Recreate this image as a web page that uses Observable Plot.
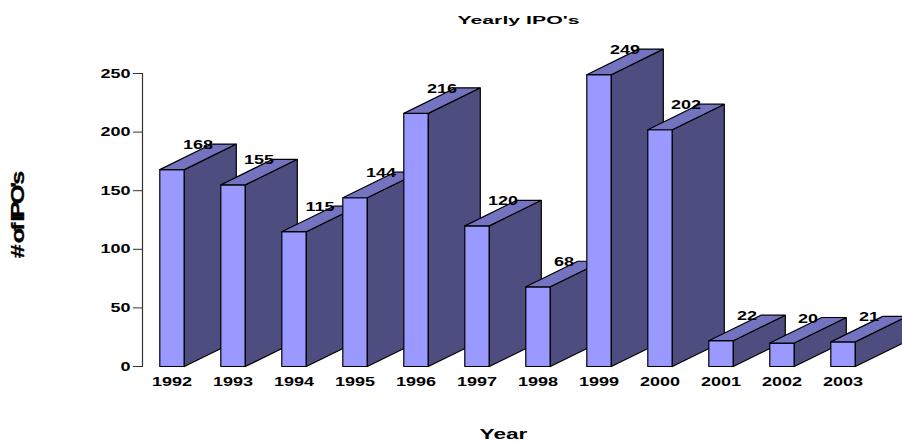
<!DOCTYPE html>
<html>
<head>
<meta charset="utf-8">
<script src="https://cdn.jsdelivr.net/npm/d3@7"></script>
<script src="https://cdn.jsdelivr.net/npm/@observablehq/plot@0.6"></script>
<style>
html,body{margin:0;padding:0;background:#fff;overflow:hidden}
svg{display:block}
</style>
</head>
<body>
<div id="chart"></div>
<script>
const years = [1992,1993,1994,1995,1996,1997,1998,1999,2000,2001,2002,2003];
const ipos  = [168,155,115,144,216,120,68,249,202,22,20,21];
const yTicks = [0,50,100,150,200,250];
const titleText = "Yearly IPO's";
const xLabel = "Year";
const yLabel = "# of IPO's";

// bar shape in data units
const barW = 0.402, depthX = 0.852, depthY = 21.8;

const polys = [];
years.forEach((yr, i) => {
  const v = ipos[i], L = yr, R = yr + barW;
  const add = (face, pts) => pts.concat([pts[0]]).forEach(p =>
    polys.push({id: yr + face, face, x: p[0], y: p[1]}));
  add("front", [[L,0],[R,0],[R,v],[L,v]]);
  add("side",  [[R,0],[R+depthX,depthY],[R+depthX,v+depthY],[R,v]]);
  add("top",   [[L,v],[R,v],[R+depthX,v+depthY],[L+depthX,v+depthY]]);
});
const labels = years.map((yr,i)=>({x: yr + barW/2 + depthX/2, y: ipos[i] + depthY, v: ipos[i]}));

const font = "'Liberation Sans', Arial, sans-serif";
const plot = Plot.plot({
  width: 902, height: 442,
  marginLeft: 142, marginRight: 0, marginTop: 73, marginBottom: 76,
  style: {fontFamily: font, fontWeight: "bold", fontSize: "12.5px", color: "#000", background: "#fff", overflow: "hidden"},
  x: {domain: [1992 - 17.3/61, 1992 + 742.7/61], axis: null},
  y: {domain: [0,250], axis: null},
  color: {domain: ["front","side","top"], range: ["#9999ff","#4d4d80","#7373bf"]},
  marks: [
    Plot.line(polys, {x:"x", y:"y", z:"id", fill:"face", stroke:"#000", strokeWidth:1.2, strokeLinejoin:"miter", curve:"linear"}),
    Plot.frame({anchor:"left", stroke:"#333", strokeWidth:1.2}),
    Plot.axisY({ticks: yTicks, tickSize: 9, tickPadding: 3, label: null, stroke:"#333", fontSize: 12.5}),
    Plot.axisX({ticks: years.map(y=>y+barW/2), tickFormat: d=>String(Math.floor(d)), tickSize: 0, tickPadding: 11, label: null, fontSize: 12.5}),
    Plot.text(labels, {x:"x", y:"y", text:d=>String(d.v), dy:1, fontSize:12.5, fill:"#000"}),
    Plot.text([titleText], {frameAnchor:"top", dx:-4, dy:-58, fontSize:11.5, fill:"#000"}),
    Plot.text([xLabel], {frameAnchor:"bottom", dx:-19, dy:72, fontSize:14.5, fill:"#000"}),
    Plot.text([yLabel], {frameAnchor:"left", textAnchor:"middle", rotate:-90, dx:-124, dy:-4, fontSize:18, fill:"#000", stroke:"#000", strokeWidth:0.3})
  ]
});
document.getElementById("chart").appendChild(plot);

// The reference's glyphs are horizontally stretched; apply it to real text.
const stretch = {[titleText]:1.85,[xLabel]:1.56,[yLabel]:1.4};
plot.querySelectorAll("text").forEach(t => {
  if (t.textContent === yLabel) t.style.letterSpacing = "-2.2px";
  const k = stretch[t.textContent] ?? 1.44;
  t.setAttribute("textLength", t.getComputedTextLength()*k);
  t.setAttribute("lengthAdjust","spacingAndGlyphs");
});
</script>
</body>
</html>
